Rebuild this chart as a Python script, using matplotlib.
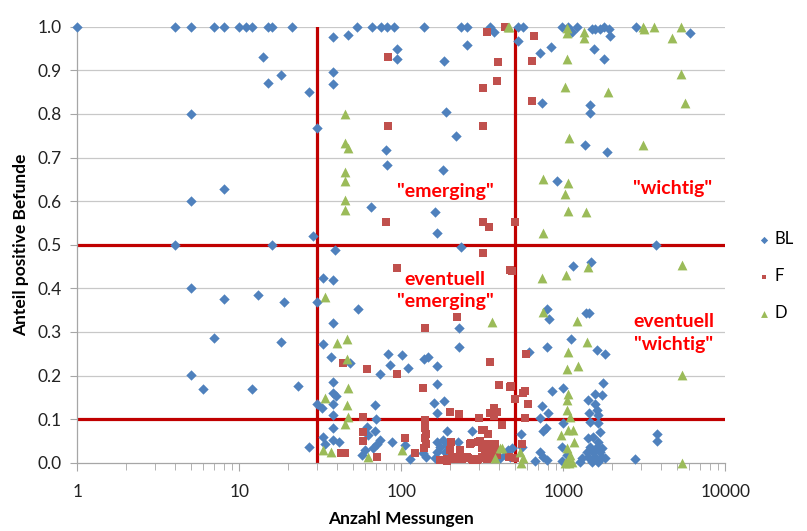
import matplotlib
matplotlib.use("Agg")
import matplotlib.pyplot as plt
from matplotlib.ticker import FixedLocator, NullFormatter

plt.rcParams['font.family'] = ['Lato', 'DejaVu Sans']

# ---------------- data ----------------
bl_x = [1, 4, 5, 7, 8, 10, 11, 12, 15, 16, 21, 53, 66, 75, 82, 90, 139, 234, 256, 354, 527, 567,
        978, 1074, 1221, 1497, 1570, 1790, 1686, 1901, 2811,
        372, 255, 525, 718, 840, 1127, 1949, 1549, 1791, 6053, 37.7, 47,
        14, 15, 18, 5, 27, 94, 94, 184, 38, 38, 189, 216, 30, 81, 82, 182, 736, 1462, 1462, 1368, 1853,
        5, 8, 4, 16, 5, 8, 13, 19,
        65, 161, 166, 28.6, 39, 234, 32.7, 37.7, 30, 54, 37.7,
        918, 3735, 1143, 1483, 797, 816, 1380, 1446,
        7, 5, 6, 12, 18,
        33, 36.8, 48, 226, 226, 83, 101, 85, 110, 74, 138, 147, 167, 167, 23, 38, 38, 39.4, 30, 32.3,
        38, 38, 69, 160, 184, 167, 70,
        38, 33, 34, 38, 41, 27, 61, 69, 62, 60, 57, 74, 71, 67, 87, 106, 113, 137, 143, 161, 165, 182,
        173, 191, 186, 165, 191, 225, 272, 458, 468,
        1116, 797, 617, 1607, 1808, 1766, 855, 1000, 1570, 1725, 1427, 1570, 743, 802, 718, 752, 778,
        1446, 1645, 1607, 1462, 1645, 1686, 1000, 546, 554, 484, 437, 407, 669, 718, 752, 789, 978,
        978, 1050,
        1427, 1532, 1645, 1462, 1607, 1725, 1394, 1532, 1686, 1427, 1570, 1725, 1497, 1645, 1298,
        1265, 1811, 3775, 3775, 2772]
bl_y = [1.0, 1.0, 1.0, 1.0, 1.0, 1.0, 1.0, 1.0, 1.0, 1.0, 1.0, 1.0, 1.0, 1.0, 1.0, 1.0, 1.0, 1.0,
        1.0, 1.0, 1.0, 1.0, 1.0, 1.0, 1.0, 0.995, 0.995, 1.0, 0.995, 0.995, 1.0,
        0.989, 0.958, 0.967, 0.94, 0.954, 0.989, 0.979, 0.948, 0.927, 0.985, 0.976, 0.98,
        0.93, 0.87, 0.89, 0.80, 0.85, 0.948, 0.927, 0.921, 0.897, 0.869, 0.805, 0.75, 0.767, 0.717,
        0.683, 0.672, 0.824, 0.82, 0.803, 0.729, 0.712,
        0.601, 0.627, 0.5, 0.5, 0.40, 0.375, 0.385, 0.369,
        0.586, 0.576, 0.528, 0.52, 0.488, 0.495, 0.424, 0.42, 0.368, 0.352, 0.32,
        0.645, 0.5, 0.451, 0.461, 0.352, 0.33, 0.343, 0.343,
        0.285, 0.201, 0.168, 0.168, 0.276,
        0.272, 0.242, 0.229, 0.31, 0.265, 0.249, 0.247, 0.224, 0.218, 0.203, 0.239, 0.242, 0.222,
        0.18, 0.176, 0.186, 0.161, 0.153, 0.134, 0.125,
        0.134, 0.109, 0.132, 0.138, 0.142, 0.113, 0.1,
        0.079, 0.06, 0.044, 0.052, 0.048, 0.037, 0.083, 0.073, 0.064, 0.029, 0.018, 0.052, 0.044,
        0.033, 0.047, 0.041, 0.008, 0.022, 0.014, 0.01, 0.048, 0.052,
        0.037, 0.041, 0.025, 0.025, 0.073, 0.047, 0.073, 0.029, 0.014,
        0.284, 0.265, 0.253, 0.258, 0.249, 0.183, 0.165, 0.171, 0.158, 0.155, 0.144, 0.134, 0.131,
        0.115, 0.103, 0.073, 0.079,
        0.113, 0.109, 0.121, 0.094, 0.09, 0.071, 0.09, 0.067, 0.037, 0.033, 0.018, 0.01, 0.005,
        0.025, 0.014, 0.006, 0.037, 0.005, 0.018,
        0.056, 0.058, 0.048, 0.037, 0.037, 0.033, 0.025, 0.025, 0.025, 0.014, 0.014, 0.014, 0.002,
        0.002, 0.01, 0.002, 0.01, 0.065, 0.05, 0.008]

f_x = [83, 83, 321, 321, 391, 395, 337, 439, 662, 641, 641,
       80.5, 321, 350, 321, 94, 468, 504, 480, 221,
       43.5, 141, 353, 61, 94, 136, 398, 468, 200, 226, 141, 58, 303, 371, 353, 388, 371, 417,
       42.6, 45, 58, 58, 71, 105, 122, 140, 143, 140, 143, 138, 203, 230, 173, 191, 210, 268, 304,
       325, 314, 338, 236, 259, 278, 299, 321, 344, 370, 388, 379,
       178, 191, 205, 220, 236, 253, 272, 292, 313, 337, 362, 388, 329, 353, 370, 266, 299, 200, 231,
       344, 313,
       586, 476, 504, 562, 580, 609, 580, 558, 504, 464]
f_y = [0.93, 0.772, 0.772, 0.86, 0.875, 0.918, 0.988, 1.0, 0.979, 0.922, 0.83,
       0.551, 0.553, 0.54, 0.482, 0.447, 0.442, 0.553, 0.44, 0.335,
       0.228, 0.31, 0.232, 0.215, 0.203, 0.171, 0.178, 0.174, 0.116, 0.112, 0.098, 0.105, 0.103,
       0.126, 0.115, 0.117, 0.107, 0.087,
       0.023, 0.023, 0.07, 0.05, 0.014, 0.056, 0.023, 0.079, 0.067, 0.056, 0.044, 0.033, 0.048,
       0.029, 0.006, 0.005, 0.008, 0.046, 0.05, 0.075, 0.034, 0.042, 0.014, 0.01, 0.006, 0.008,
       0.011, 0.01, 0.018, 0.025, 0.044,
       0.006, 0.008, 0.014, 0.01, 0.008, 0.014, 0.008, 0.006, 0.012, 0.008, 0.014, 0.018, 0.025,
       0.037, 0.044, 0.044, 0.048, 0.029, 0.029, 0.067, 0.075,
       0.249, 0.176, 0.145, 0.159, 0.164, 0.134, 0.103, 0.044, 0.01, 0.014]

d_x = [45, 45, 47, 458, 464, 1050, 1050, 1349, 1349, 1059, 3090, 3165, 3632, 5350, 4710, 5310,
       1025, 1897, 5660, 1080, 3090,
       45, 45, 45, 45, 34, 365,
       746, 1064, 1029, 1071, 1380, 746, 1427, 5380, 736, 1040, 746, 1210,
       40, 46, 46, 47, 34, 46, 47, 45, 33, 36.8, 62.6, 101, 407, 379,
       1394, 1074, 1227, 1059, 5380, 1064, 1050, 1050, 1099, 966, 1074, 1153, 1164, 541, 562, 547,
       418, 5430,
       1050, 1099, 1064, 1127, 1029, 1080]
d_y = [0.80, 0.734, 0.722, 1.0, 1.0, 0.996, 0.985, 0.989, 0.975, 0.926, 1.0, 0.995, 1.0, 1.0,
       0.975, 0.892, 0.861, 0.85, 0.825, 0.745, 0.729,
       0.667, 0.646, 0.603, 0.58, 0.381, 0.322,
       0.65, 0.641, 0.616, 0.578, 0.576, 0.527, 0.45, 0.453, 0.423, 0.43, 0.346, 0.326,
       0.274, 0.283, 0.238, 0.171, 0.148, 0.132, 0.105, 0.088, 0.029, 0.025, 0.014, 0.029, 0.033,
       0.01,
       0.278, 0.255, 0.222, 0.215, 0.201, 0.157, 0.144, 0.121, 0.105, 0.064, 0.075, 0.075, 0.048,
       0.025, 0.01, 0.0, 0.033, 0.0,
       0.033, 0.018, 0.006, 0.002, 0.0, 0.0]

x_ticks = [1, 10, 100, 1000, 10000]
x_ticklabels = ["1", "10", "100", "1000", "10000"]
y_ticks = [0.0, 0.1, 0.2, 0.3, 0.4, 0.5, 0.6, 0.7, 0.8, 0.9, 1.0]
v_thresholds = [30, 500]
h_thresholds = [0.1, 0.5]
series_names = ["BL", "F", "D"]

# ---------------- figure ----------------
fig = plt.figure(figsize=(8.07, 5.31), dpi=100)
ax = fig.add_axes([0.0958, 0.1286, 0.803, 0.8211])

C_BL = "#4F81BD"
C_F = "#C0504D"
C_D = "#9BBB59"
C_LINE = "#C00000"
C_TXT = "#FF0000"

ax.set_xscale("log")
ax.set_xlim(1, 10000)
ax.set_ylim(0, 1.0)

for yv in y_ticks[1:]:
    ax.axhline(yv, color="#C8C8C8", lw=0.9, zorder=0.5)

for xv in v_thresholds:
    ax.axvline(xv, color=C_LINE, lw=2.3, zorder=1.5)
for yv in h_thresholds:
    ax.axhline(yv, color=C_LINE, lw=2.3, zorder=1.5)

ax.scatter(bl_x, bl_y, marker="D", s=28, color=C_BL, lw=0, label=series_names[0],
           clip_on=False, zorder=3)
ax.scatter(f_x, f_y, marker="s", s=26, color=C_F, lw=0, label=series_names[1],
           clip_on=False, zorder=3)
ax.scatter(d_x, d_y, marker="^", s=50, color=C_D, lw=0, label=series_names[2],
           clip_on=False, zorder=3)

ax.xaxis.set_major_locator(FixedLocator(x_ticks))
ax.set_xticklabels(x_ticklabels)
minors = [m * 10 ** e for e in range(0, 4) for m in range(2, 10)]
ax.xaxis.set_minor_locator(FixedLocator(minors))
ax.xaxis.set_minor_formatter(NullFormatter())
ax.set_yticks(y_ticks)
ax.set_yticklabels([f"{v:.1f}" for v in y_ticks])

ax.tick_params(axis="x", which="major", direction="out", length=6, color="#A6A6A6",
               labelsize=12.5, pad=9, labelcolor="#222222")
ax.tick_params(axis="x", which="minor", direction="out", length=5, color="#A6A6A6")
ax.tick_params(axis="y", which="major", direction="out", length=5, color="#A6A6A6",
               labelsize=12.5, pad=6, labelcolor="#222222")

for side in ["top", "right"]:
    ax.spines[side].set_visible(False)
for side in ["left", "bottom"]:
    ax.spines[side].set_color("#A6A6A6")
    ax.spines[side].set_linewidth(0.9)

ax.set_xlabel("Anzahl Messungen", fontsize=12.5, fontweight="bold", labelpad=8)
ax.set_ylabel("Anteil positive Befunde", fontsize=12.5, fontweight="bold", labelpad=6)

tk = dict(color=C_TXT, fontsize=14, fontweight="bold", ha="center", va="center", zorder=4)
ax.text(186, 0.623, '"emerging"', **tk)
ax.text(186, 0.42, "eventuell", **tk)
ax.text(186, 0.369, '"emerging"', **tk)
ax.text(4750, 0.629, '"wichtig"', **tk)
ax.text(4800, 0.323, "eventuell", **tk)
ax.text(4800, 0.27, '"wichtig"', **tk)

leg = fig.legend(loc="center left", bbox_to_anchor=(0.936, 0.48), frameon=False,
                 fontsize=12, markerscale=0.7, handletextpad=0.15, labelspacing=1.25,
                 borderaxespad=0, handlelength=1.0, borderpad=0)

fig.savefig("out.png", dpi=100)
